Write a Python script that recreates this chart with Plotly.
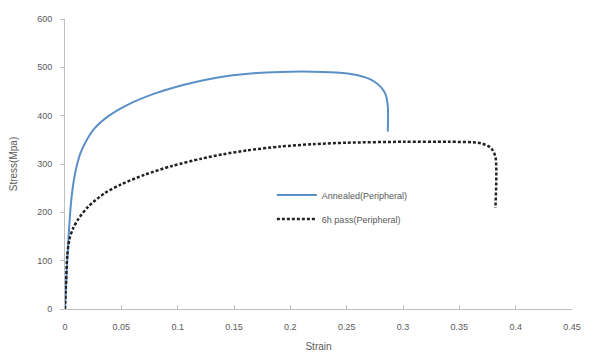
import plotly.graph_objects as go

annealed_strain = [0.000, 0.002, 0.004, 0.006, 0.009, 0.013, 0.018, 0.026, 0.0385, 0.056, 0.080, 0.104,
                   0.124, 0.147, 0.174, 0.200, 0.220, 0.244, 0.259, 0.272, 0.280, 0.2845, 0.2865, 0.2865]
annealed_stress = [0, 100, 180, 235, 281, 318, 344, 373, 399, 423, 446, 463,
                   474, 483, 489, 491, 491, 489, 484, 474, 460, 444, 420, 367]

pass_strain = [0.000, 0.001, 0.002, 0.004, 0.0074, 0.0118, 0.0207, 0.0355, 0.050, 0.071, 0.095, 0.121,
               0.140, 0.161, 0.191, 0.220, 0.250, 0.300, 0.340, 0.369, 0.378, 0.382, 0.382]
pass_stress = [0, 60, 110, 145, 168, 186, 212, 240, 258, 278, 296, 311,
               320, 328, 336, 341, 344, 346, 346, 343, 333, 315, 209]

x_ticks = [0, 0.05, 0.1, 0.15, 0.2, 0.25, 0.3, 0.35, 0.4, 0.45]
x_tick_labels = ["0", "0.05", "0.1", "0.15", "0.2", "0.25", "0.3", "0.35", "0.4", "0.45"]
y_ticks = [0, 100, 200, 300, 400, 500, 600]

fig = go.Figure()
fig.add_trace(go.Scatter(x=annealed_strain, y=annealed_stress, mode="lines", legendgroup="a",
                         name="Annealed(Peripheral)",
                         line=dict(color="#5b8fc7", width=2, shape="spline", smoothing=0.8)))
fig.add_trace(go.Scatter(x=pass_strain, y=pass_stress, mode="lines", legendgroup="b",
                         name="6h pass(Peripheral)",
                         line=dict(color="#222222", width=2.5, dash="3px,2px", shape="spline", smoothing=0.8)))

fig.update_layout(
    width=592, height=346,
    margin=dict(l=57, r=28, t=11, b=45),
    paper_bgcolor="white", plot_bgcolor="white",
    font=dict(family="Liberation Sans, Arial, sans-serif", size=9, color="#595959"),
    legend=dict(x=0.408, y=0.443, xanchor="left", yanchor="top", bgcolor="rgba(0,0,0,0)",
                font=dict(size=9, color="#595959"), itemwidth=40, tracegroupgap=5),
    showlegend=True,
)
fig.update_xaxes(range=[0, 0.45], tickvals=x_ticks, ticktext=x_tick_labels, showgrid=False, zeroline=False,
                 automargin=False,
                 showline=True, linecolor="#bfbfbf", linewidth=1, ticks="inside", ticklen=4, tickcolor="#bfbfbf",
                 ticklabelstandoff=9,
                 title=dict(text="Strain", font=dict(size=10, color="#595959"), standoff=12))
fig.update_yaxes(range=[0, 600], tickvals=y_ticks, showgrid=False, zeroline=False,
                 automargin=False,
                 showline=True, linecolor="#bfbfbf", linewidth=1, ticks="outside", ticklen=4, tickcolor="#bfbfbf",
                 ticklabelstandoff=6,
                 title=dict(text="Stress(Mpa)", font=dict(size=10, color="#595959"), standoff=17))

fig.write_html("out.html")
